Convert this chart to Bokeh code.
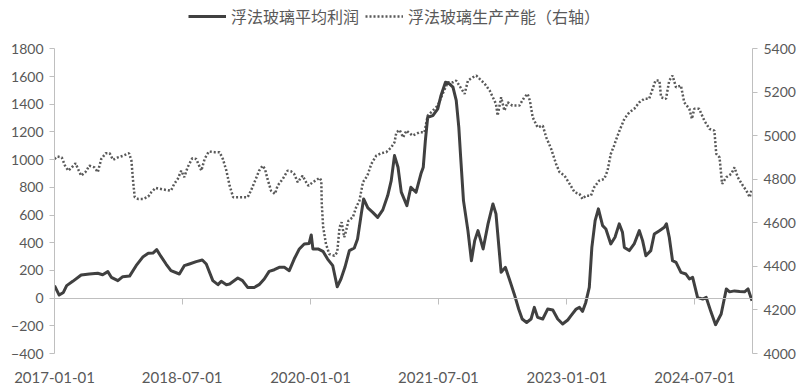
import numpy as np
from bokeh.plotting import figure
from bokeh.models import (Range1d, LinearAxis, DatetimeAxis, FixedTicker,
                          DatetimeTickFormatter, Legend, LegendItem)
from bokeh.embed import file_html
from bokeh.resources import INLINE

# ---------------- data ----------------
profit_dates = [
    "2017-01-01", "2017-01-21", "2017-02-08", "2017-02-22", "2017-03-20", "2017-04-25",
    "2017-05-30", "2017-07-05", "2017-07-26", "2017-08-17", "2017-09-01", "2017-09-29",
    "2017-10-20", "2017-11-18", "2017-12-16", "2018-01-15", "2018-02-06", "2018-02-26",
    "2018-03-14", "2018-04-02", "2018-04-23", "2018-05-14", "2018-06-19", "2018-07-10",
    "2018-08-01", "2018-08-30", "2018-09-25", "2018-10-12", "2018-11-09", "2018-12-01",
    "2018-12-15", "2019-01-06", "2019-01-20", "2019-02-24", "2019-03-16", "2019-04-07",
    "2019-05-05", "2019-05-26", "2019-06-17", "2019-07-08", "2019-07-30", "2019-08-20",
    "2019-09-11", "2019-10-02", "2019-10-23", "2019-11-14", "2019-12-05", "2019-12-26",
    "2020-01-04", "2020-01-11", "2020-02-02", "2020-02-23", "2020-03-14", "2020-04-05",
    "2020-04-24", "2020-05-10", "2020-05-27", "2020-06-15", "2020-07-06", "2020-07-20",
    "2020-08-05", "2020-08-15", "2020-09-02", "2020-09-23", "2020-10-14", "2020-11-05",
    "2020-11-26", "2020-12-11", "2020-12-25", "2021-01-09", "2021-01-23", "2021-02-16",
    "2021-03-05", "2021-03-27", "2021-04-17", "2021-04-27", "2021-05-06", "2021-05-16",
    "2021-06-07", "2021-06-28", "2021-07-12", "2021-07-31", "2021-08-17", "2021-09-01",
    "2021-09-15", "2021-09-26", "2021-10-04", "2021-10-16", "2021-11-04", "2021-11-19",
    "2021-12-03", "2021-12-17", "2022-01-08", "2022-01-29", "2022-02-19", "2022-03-04",
    "2022-03-26", "2022-04-13", "2022-04-30", "2022-05-21", "2022-06-09", "2022-06-24",
    "2022-07-13", "2022-08-01", "2022-08-15", "2022-08-29", "2022-09-20", "2022-10-11",
    "2022-11-02", "2022-11-23", "2022-12-14", "2023-01-05", "2023-01-19", "2023-02-10",
    "2023-02-24", "2023-03-09", "2023-03-23", "2023-04-07", "2023-04-18", "2023-05-02",
    "2023-05-16", "2023-06-03", "2023-06-17", "2023-07-08", "2023-07-26", "2023-08-13",
    "2023-08-27", "2023-09-04", "2023-09-25", "2023-10-16", "2023-11-07", "2023-11-21",
    "2023-12-05", "2023-12-26", "2024-01-10", "2024-02-01", "2024-02-22", "2024-03-02",
    "2024-03-14", "2024-03-28", "2024-04-12", "2024-05-03", "2024-05-24", "2024-06-08",
    "2024-06-22", "2024-07-13", "2024-08-04", "2024-08-19", "2024-09-09", "2024-09-28",
    "2024-10-22", "2024-11-13", "2024-11-27", "2024-12-18", "2025-01-09", "2025-01-30",
    "2025-02-14", "2025-03-03",
]
profit_vals = [
    90, 22, 41, 90, 121, 167,
    174, 179, 169, 191, 150, 126,
    155, 159, 234, 299, 323, 325,
    350, 299, 246, 198, 174, 234,
    246, 263, 275, 246, 126, 97,
    121, 97, 102, 145, 126, 77,
    77, 97, 138, 193, 205, 222,
    222, 198, 282, 355, 391, 395,
    456, 355, 355, 338, 282, 234,
    82, 138, 222, 343, 362, 427,
    608, 716, 651, 619, 583, 637,
    740, 848, 1029, 945, 765, 668,
    800, 764, 897, 945, 1137, 1306,
    1318, 1366, 1463, 1559, 1547, 1523,
    1427, 1234, 1017, 704, 487, 270,
    415, 487, 355, 536, 680, 608,
    186, 222, 138, 30, -79, -151,
    -176, -151, -67, -139, -151, -79,
    -86, -151, -187, -158, -127, -79,
    -67, -96, -31, 77, 366, 559,
    644, 523, 499, 391, 439, 536,
    475, 366, 343, 391, 487, 415,
    306, 343, 463, 487, 511, 536,
    439, 270, 258, 186, 174, 138,
    150, 5, -7, 5, -103, -192,
    -115, 66, 45, 52, 48, 45,
    66, -19,
]

capacity_dates = [
    "2017-01-01", "2017-01-13", "2017-02-01", "2017-02-15", "2017-03-01", "2017-03-14",
    "2017-04-01", "2017-04-15", "2017-04-25", "2017-05-13", "2017-05-30", "2017-06-21",
    "2017-07-05", "2017-07-20", "2017-08-08", "2017-08-25", "2017-09-08", "2017-09-29",
    "2017-10-20", "2017-11-16", "2017-11-26", "2017-12-03", "2017-12-10", "2017-12-24",
    "2018-01-15", "2018-02-06", "2018-02-19", "2018-03-09", "2018-04-09", "2018-05-14",
    "2018-05-28", "2018-06-12", "2018-06-27", "2018-07-10", "2018-07-24", "2018-08-13",
    "2018-08-30", "2018-09-21", "2018-10-05", "2018-10-23", "2018-11-17", "2018-12-08",
    "2018-12-22", "2019-01-06", "2019-01-20", "2019-02-04", "2019-04-07", "2019-04-21",
    "2019-05-12", "2019-05-26", "2019-06-10", "2019-06-20", "2019-07-01", "2019-07-16",
    "2019-08-02", "2019-08-13", "2019-09-04", "2019-09-25", "2019-10-09", "2019-10-23",
    "2019-11-07", "2019-11-28", "2019-12-13", "2019-12-23", "2020-01-11", "2020-02-09",
    "2020-02-16", "2020-02-18", "2020-02-24", "2020-03-07", "2020-03-21", "2020-04-12",
    "2020-04-24", "2020-05-04", "2020-05-13", "2020-05-24", "2020-06-01", "2020-06-11",
    "2020-06-30", "2020-07-14", "2020-07-28", "2020-08-12", "2020-08-31", "2020-09-17",
    "2020-10-08", "2020-10-29", "2020-11-20", "2020-12-11", "2020-12-25", "2021-01-02",
    "2021-01-16", "2021-01-31", "2021-02-14", "2021-03-12", "2021-04-10", "2021-05-02",
    "2021-05-16", "2021-06-07", "2021-06-28", "2021-07-19", "2021-08-10", "2021-09-01",
    "2021-09-15", "2021-10-07", "2021-10-21", "2021-11-04", "2021-11-25", "2021-12-10",
    "2021-12-24", "2022-01-15", "2022-02-05", "2022-03-04", "2022-03-11", "2022-03-26",
    "2022-04-09", "2022-04-23", "2022-05-13", "2022-06-12", "2022-07-03", "2022-07-17",
    "2022-07-27", "2022-08-08", "2022-08-29", "2022-09-20", "2022-10-05", "2022-10-26",
    "2022-11-16", "2022-12-01", "2022-12-22", "2023-01-13", "2023-02-03", "2023-02-24",
    "2023-03-09", "2023-03-23", "2023-04-14", "2023-04-28", "2023-05-19", "2023-06-10",
    "2023-06-24", "2023-07-08", "2023-07-22", "2023-08-06", "2023-08-20", "2023-09-04",
    "2023-09-25", "2023-10-16", "2023-11-07", "2023-11-28", "2023-12-19", "2024-01-03",
    "2024-01-15", "2024-02-01", "2024-02-08", "2024-02-29", "2024-03-14", "2024-03-28",
    "2024-04-12", "2024-05-03", "2024-05-17", "2024-06-08", "2024-06-19", "2024-06-29",
    "2024-07-20", "2024-08-11", "2024-09-02", "2024-09-23", "2024-10-01", "2024-10-15",
    "2024-10-26", "2024-11-13", "2024-12-04", "2024-12-18", "2025-01-01", "2025-01-23",
    "2025-02-07", "2025-02-21", "2025-02-28",
]
capacity_vals = [
    4894, 4905, 4901, 4863, 4840, 4853,
    4874, 4840, 4817, 4833, 4863, 4855,
    4833, 4894, 4920, 4920, 4890, 4901,
    4908, 4920, 4886, 4794, 4718, 4710,
    4710, 4721, 4741, 4761, 4754, 4748,
    4779, 4802, 4840, 4810, 4855, 4897,
    4894, 4840, 4894, 4928, 4925, 4925,
    4894, 4840, 4771, 4718, 4718, 4748,
    4802, 4840, 4863, 4848, 4802, 4748,
    4733, 4771, 4802, 4840, 4837, 4825,
    4787, 4817, 4787, 4771, 4787, 4807,
    4794, 4687, 4580, 4503, 4457, 4449,
    4465, 4580, 4603, 4534, 4564, 4610,
    4626, 4672, 4702, 4787, 4817, 4871,
    4909, 4920, 4925, 4947, 4970, 5016,
    5027, 4993, 5024, 5001, 5016, 5016,
    5093, 5116, 5139, 5193, 5246, 5246,
    5254, 5216, 5193, 5254, 5269, 5277,
    5262, 5239, 5208, 5147, 5093, 5177,
    5116, 5154, 5139, 5139, 5177, 5193,
    5162, 5085, 5039, 5047, 4993, 4940,
    4871, 4833, 4817, 4779, 4741, 4733,
    4710, 4725, 4725, 4764, 4794, 4802,
    4840, 4917, 4955, 5001, 5039, 5078,
    5108, 5124, 5154, 5170, 5170, 5216,
    5254, 5254, 5177, 5170, 5254, 5277,
    5223, 5231, 5154, 5124, 5078, 5124,
    5124, 5070, 5032, 5024, 4917, 4901,
    4779, 4810, 4825, 4855, 4810, 4771,
    4748, 4718, 4748,
]

x_tick_labels = ["2017-01-01", "2018-07-01", "2020-01-01", "2021-07-01", "2023-01-01", "2024-07-01"]
x_start, x_end = "2017-01-01", "2025-03-05"
left_axis = (-400, 1800)
right_axis = (4000, 5400)
series_names = ["浮法玻璃平均利润", "浮法玻璃生产产能（右轴）"]

# ---------------- figure ----------------
def to_dt(lst):
    return np.array(lst, dtype="datetime64[ms]")

def to_ms(lst):
    return to_dt(lst).astype("int64").tolist()

TXT = "#595959"
AX = "#bfbfbf"

# plot frame reaches up to the top so the legend (inside the frame) is not clipped;
# the axes are bounded to their value spans
HEAD = 48.3 / 304.7   # headroom above the top tick, as a fraction of the tick span
left_end = left_axis[1] + (left_axis[1] - left_axis[0]) * HEAD
right_end = right_axis[1] + (right_axis[1] - right_axis[0]) * HEAD

p = figure(width=802, height=385, output_backend="svg", toolbar_location=None,
           x_axis_type="datetime",
           x_range=Range1d(to_ms([x_start])[0], to_ms([x_end])[0]),
           y_range=Range1d(left_axis[0], left_end),
           min_border_left=54, min_border_right=50, min_border_top=0, min_border_bottom=32)
p.extra_y_ranges = {"cap": Range1d(right_axis[0], right_end)}
p.outline_line_color = None
p.xgrid.visible = False
p.ygrid.visible = False
p.background_fill_color = "white"
p.border_fill_color = "white"

fmt = DatetimeTickFormatter(milliseconds="%Y-%m-%d", seconds="%Y-%m-%d", minsec="%Y-%m-%d",
                            minutes="%Y-%m-%d", hourmin="%Y-%m-%d", hours="%Y-%m-%d",
                            days="%Y-%m-%d", months="%Y-%m-%d", years="%Y-%m-%d",
                            context=None)
xt = FixedTicker(ticks=to_ms(x_tick_labels), minor_ticks=[])

xa = p.xaxis[0]
xa.ticker = xt
xa.formatter = fmt
xa.axis_line_color = None
xa.major_tick_line_color = None
xa.minor_tick_line_color = None
xa.major_label_standoff = 12
xa.major_label_text_font = "Lato"
xa.major_label_text_font_size = "15px"
xa.major_label_text_color = TXT

# zero line axis with ticks
za = DatetimeAxis(fixed_location=0, ticker=FixedTicker(ticks=to_ms(x_tick_labels), minor_ticks=[]),
                  formatter=fmt)
za.axis_line_color = AX
za.major_tick_line_color = AX
za.major_tick_in = 0
za.major_tick_out = 6
za.minor_tick_line_color = None
za.major_label_text_font_size = "0px"
za.major_label_text_alpha = 0
p.add_layout(za, "below")

ya = p.yaxis[0]
ya.ticker = FixedTicker(ticks=list(range(left_axis[0], left_axis[1] + 1, 200)), minor_ticks=[])
ya.bounds = left_axis
ya.axis_line_color = AX
ya.major_tick_line_color = AX
ya.major_tick_in = 0
ya.major_tick_out = 5
ya.minor_tick_line_color = None
ya.major_label_standoff = 6
ya.major_label_text_font = "Lato"
ya.major_label_text_font_size = "14px"
ya.major_label_text_color = TXT

ra = LinearAxis(y_range_name="cap", bounds=right_axis,
                ticker=FixedTicker(ticks=list(range(right_axis[0], right_axis[1] + 1, 200)), minor_ticks=[]))
ra.axis_line_color = AX
ra.major_tick_line_color = AX
ra.major_tick_in = 0
ra.major_tick_out = 5
ra.minor_tick_line_color = None
ra.major_label_standoff = 6
ra.major_label_text_font = "Lato"
ra.major_label_text_font_size = "14px"
ra.major_label_text_color = TXT
p.add_layout(ra, "right")

r_cap = p.line(to_dt(capacity_dates), capacity_vals, y_range_name="cap",
               line_color="#595959", line_width=2.5, line_dash="2 2")
r_profit = p.line(to_dt(profit_dates), profit_vals,
                  line_color="#404040", line_width=3, line_join="round")

legend = Legend(items=[LegendItem(label=series_names[0], renderers=[r_profit]),
                       LegendItem(label=series_names[1], renderers=[r_cap])],
                orientation="horizontal", location=(134, 325),
                glyph_width=38, glyph_height=20, label_standoff=5, spacing=6,
                padding=0, margin=0, border_line_color=None, background_fill_alpha=0,
                label_text_font="Noto Sans CJK SC", label_text_font_size="16px",
                label_text_color=TXT)
p.add_layout(legend, "center")

open("out.html", "w").write(file_html(p, INLINE))
